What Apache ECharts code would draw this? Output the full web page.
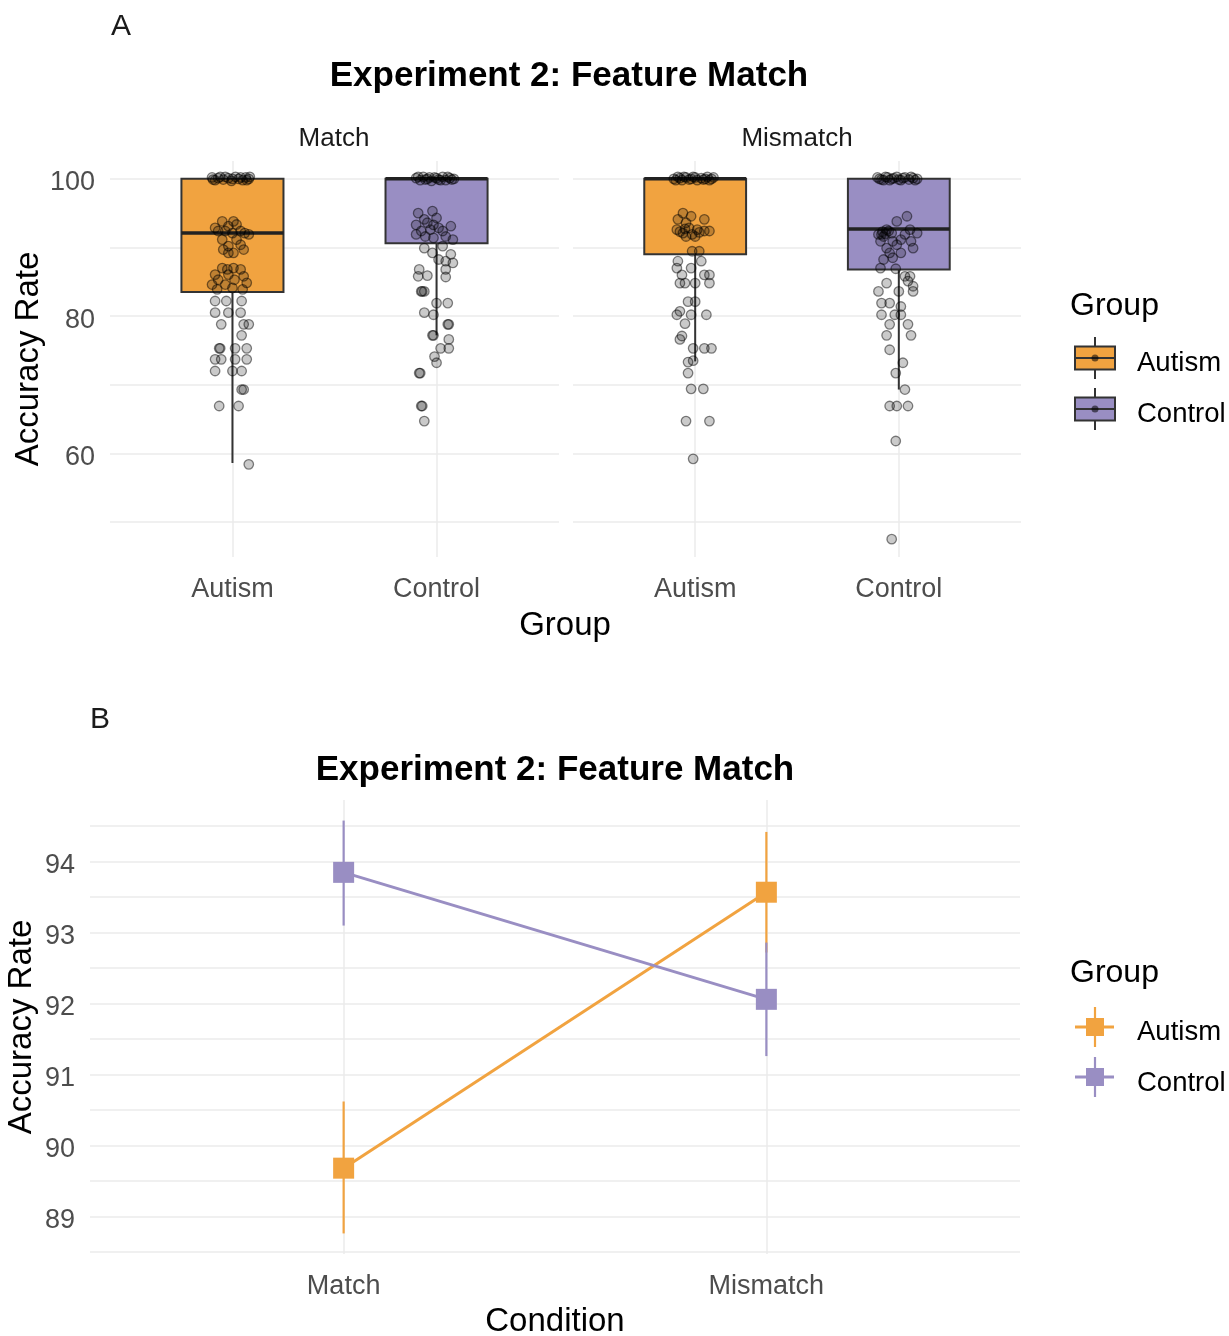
<!DOCTYPE html>
<html>
<head>
<meta charset="utf-8">
<script src="https://cdn.jsdelivr.net/npm/echarts@6/dist/echarts.min.js"></script>
<style>
html,body{margin:0;padding:0;background:#ffffff;}
#chart{width:1229px;height:1336px;}
</style>
</head>
<body>
<div id="chart"></div>
<script>
// ---------------- DATA ----------------
const groups = ['Autism', 'Control'];
const conditions = ['Match', 'Mismatch'];
const yTicksTop = [60, 80, 100];
const yGridTop = [50, 60, 70, 80, 90, 100];
const yTicksBottom = [89, 90, 91, 92, 93, 94];
const yGridBottom = [88.5, 89, 89.5, 90, 90.5, 91, 91.5, 92, 92.5, 93, 93.5, 94, 94.5];

// box statistics: [lower whisker, Q1, median, Q3, upper whisker]
const boxAutismMatch = [58.6, 83.5, 92.1, 100, 100];
const boxControlMatch = [77.2, 90.6, 100, 100, 100];
const boxAutismMismatch = [73.4, 89.0, 100, 100, 100];
const boxControlMismatch = [69.3, 86.8, 92.7, 100, 100];

// jittered points: [horizontal jitter (category units), accuracy]
const ptsAutismMatch = [
  [-0.10,100.2],[-0.085,99.8],[-0.06,100.3],[-0.045,99.9],[-0.02,100.1],[-0.005,99.7],[0.015,100.3],[0.03,100.0],[0.05,99.8],[0.065,100.2],[0.08,100.0],
  [-0.095,99.9],[-0.07,100.1],[-0.035,100.3],[0.0,100.0],[0.04,100.2],[0.07,99.8],[0.085,100.3],
  [-0.05,93.8],[0.005,93.8],[-0.085,92.85],[-0.02,93.1],[0.02,93.35],[-0.07,92.4],[-0.035,92.4],[0.06,92.1],[0.0,92.1],[0.04,92.4],[0.08,91.9],
  [-0.05,91.15],[0.02,91.15],[-0.02,90.2],[0.04,90.4],[-0.045,89.7],[0.005,89.2],[0.055,89.7],[-0.02,89.2],
  [-0.05,87.0],[0.005,87.0],[0.04,86.8],[-0.085,86.05],[-0.02,86.05],[0.055,85.8],[-0.07,85.3],[0.01,85.3],[-0.10,84.6],[-0.035,84.6],[0.07,84.85],[-0.075,83.9],[0.0,84.1],[0.05,83.9],[-0.025,86.8],
  [-0.085,82.2],[-0.03,82.2],[0.045,82.2],
  [-0.085,80.5],[-0.02,80.5],[0.04,80.5],
  [-0.055,78.8],[0.055,78.8],[0.08,78.8],
  [0.045,77.2],
  [-0.065,75.3],[-0.06,75.3],[0.013,75.3],[0.07,75.3],
  [-0.085,73.7],[-0.055,73.7],[0.013,73.7],[0.07,73.7],
  [-0.085,72.0],[0.0,72.0],[0.045,72.0],
  [0.045,69.3],[0.055,69.3],
  [-0.065,66.9],[0.03,66.9],
  [0.08,58.4]
];
const ptsControlMatch = [
  [-0.10,100.1],[-0.08,99.8],[-0.065,100.3],[-0.045,100.0],[-0.025,99.7],[-0.01,100.2],[0.01,99.9],[0.03,100.3],[0.045,99.8],[0.065,100.1],[0.085,100.0],
  [-0.09,100.3],[-0.055,99.9],[-0.035,100.2],[0.0,100.1],[0.02,99.8],[0.055,100.3],[0.075,99.9],
  [-0.09,95.0],[-0.02,95.3],[-0.06,94.1],[0.0,94.3],[-0.10,93.3],[-0.045,93.6],[-0.015,93.3],[0.07,93.1],[-0.075,92.4],[-0.03,92.6],[0.03,92.4],
  [-0.10,91.9],[-0.055,91.6],[0.045,91.6],[0.08,91.15],[-0.015,91.4],[0.01,92.85],
  [-0.06,89.9],[0.03,90.2],[-0.02,89.2],[0.07,89.0],[0.01,88.25],[0.045,88.0],[0.08,87.75],[-0.085,86.8],[0.045,86.8],[-0.09,85.8],[-0.045,85.9],[0.045,85.7],
  [-0.075,83.6],[-0.07,83.6],[-0.06,83.6],
  [0.0,81.9],[0.055,81.9],
  [-0.06,80.5],[-0.015,80.2],
  [0.055,78.8],[0.06,78.8],
  [-0.02,77.2],[-0.015,77.2],[0.06,76.6],
  [0.02,75.3],[0.06,75.3],
  [-0.01,74.1],[0.0,73.2],
  [-0.085,71.7],[-0.08,71.7],
  [-0.075,66.9],[-0.07,66.9],
  [-0.06,64.7]
];
const ptsAutismMismatch = [
  [-0.105,100.0],[-0.085,100.3],[-0.065,99.8],[-0.045,100.2],[-0.03,99.9],[-0.01,100.3],[0.01,99.8],[0.03,100.1],[0.05,100.0],[0.07,99.8],[0.09,100.2],
  [-0.095,99.8],[-0.075,100.1],[-0.055,100.3],[-0.02,100.0],[0.0,100.2],[0.04,99.9],[0.06,100.3],[0.08,100.0],
  [-0.06,95.0],[-0.02,94.55],[-0.085,94.1],[-0.045,93.6],[0.045,94.1],[-0.09,92.6],[-0.03,92.85],[0.01,92.6],[-0.06,92.1],[-0.015,91.9],[0.045,92.4],[0.07,92.4],[-0.045,91.6],[0.0,91.6],
  [-0.075,92.3],[-0.05,92.7],[0.02,92.2],
  [-0.015,89.45],[0.02,89.45],
  [-0.085,88.0],[0.03,88.0],
  [-0.09,87.0],[-0.02,87.0],
  [-0.065,86.0],[0.045,86.0],[0.07,86.0],
  [-0.075,84.8],[-0.05,84.8],[0.0,84.8],[0.07,84.8],
  [-0.035,82.1],[0.0,82.1],
  [-0.075,80.7],[-0.09,80.2],[-0.02,80.2],[0.055,80.2],
  [-0.05,78.9],
  [-0.065,77.1],[-0.075,76.6],
  [-0.01,75.3],[0.045,75.3],[0.08,75.3],
  [-0.035,73.3],[-0.01,73.5],
  [-0.035,71.7],
  [-0.02,69.4],[0.04,69.4],
  [-0.045,64.7],[0.07,64.7],
  [-0.01,59.2]
];
const ptsControlMismatch = [
  [-0.105,100.2],[-0.085,99.9],[-0.065,100.3],[-0.045,99.8],[-0.025,100.1],[-0.01,100.3],[0.01,99.8],[0.03,100.2],[0.05,99.9],[0.07,100.1],[0.09,100.0],
  [-0.095,100.0],[-0.075,99.8],[-0.055,100.2],[-0.035,100.0],[0.0,99.9],[0.02,100.1],[0.06,100.3],[0.08,99.8],
  [0.04,94.55],[-0.01,93.8],[-0.06,92.6],[0.055,92.6],[-0.10,91.9],[-0.075,91.6],[-0.035,92.1],[0.03,91.9],[0.09,92.1],
  [-0.09,90.9],[-0.03,90.9],[0.01,91.15],[0.06,90.9],[-0.06,89.9],[-0.01,90.4],[0.07,89.9],[-0.045,89.2],[0.01,89.2],
  [-0.075,88.25],[-0.03,88.5],[-0.09,87.0],[-0.015,86.9],[-0.08,92.3],[-0.05,92.4],[-0.085,91.9],[-0.065,92.0],
  [0.03,85.8],[0.055,85.8],[0.045,85.1],[-0.06,84.8],[0.07,84.35],
  [-0.10,83.6],[0.0,83.6],[0.07,83.6],
  [-0.085,81.9],[-0.045,81.9],[0.01,81.4],
  [-0.085,80.2],[-0.02,80.2],[0.01,80.2],
  [-0.045,78.8],[0.045,78.8],
  [-0.06,77.2],[0.06,77.2],
  [-0.045,75.1],
  [0.02,73.2],
  [-0.015,71.7],
  [0.03,69.3],
  [-0.045,66.9],[-0.01,66.9],[0.045,66.9],
  [-0.015,61.8],
  [-0.035,47.5]
];

// panel B: means and error bar limits, per condition (Match, Mismatch)
const meanAutism = [89.68, 93.57];
const meanControl = [93.85, 92.06];
const lowAutism = [88.76, 92.72];
const highAutism = [90.62, 94.42];
const lowControl = [93.10, 91.26];
const highControl = [94.58, 92.86];

// ---------------- STYLE ----------------
const FONT = '"Liberation Sans", Arial, Helvetica, sans-serif';
const fillColors = ['#f1a340', '#998ec3'];
const gridColor = '#ebebeb';
const tickColor = '#4d4d4d';
const boxWidth = 0.5;

const chart = echarts.init(document.getElementById('chart'), null, {renderer: 'canvas'});

function xAxisCfg(gridIndex, names) {
  return {
    gridIndex: gridIndex, type: 'value', min: 0.4, max: 2.6,
    axisLine: {show: false},
    axisTick: {show: false, customValues: [1, 2]},
    axisLabel: {customValues: [1, 2], formatter: function (v) { return names[Math.round(v) - 1]; },
      fontSize: 27, color: tickColor, fontFamily: FONT, margin: 19},
    splitLine: {show: true, lineStyle: {color: gridColor, width: 1.5}},
    minorSplitLine: {show: false}
  };
}
function yAxisCfg(gridIndex, min, max, gridVals, labelVals, showLabels, margin) {
  return {
    gridIndex: gridIndex, type: 'value', min: min, max: max,
    axisLine: {show: false},
    axisTick: {show: false, customValues: gridVals},
    axisLabel: {show: showLabels, customValues: labelVals, margin: margin,
      formatter: function (v) { return '{t|' + v + '}'; },
      rich: {t: {fontSize: 27, color: tickColor, fontFamily: FONT, padding: [8, 0, 0, 0]}}},
    splitLine: {show: true, lineStyle: {color: gridColor, width: 1.5}}
  };
}

function boxRender(params, api) {
  const x = api.value(0);
  const lo = api.value(1), q1 = api.value(2), med = api.value(3), q3 = api.value(4), hi = api.value(5);
  const tl = api.coord([x - boxWidth / 2, q3]);
  const br = api.coord([x + boxWidth / 2, q1]);
  const pLo = api.coord([x, lo]), pHi = api.coord([x, hi]);
  const pQ1 = api.coord([x, q1]), pQ3 = api.coord([x, q3]);
  const mL = api.coord([x - boxWidth / 2, med]), mR = api.coord([x + boxWidth / 2, med]);
  const stroke = '#333333';
  return {
    type: 'group',
    children: [
      {type: 'line', shape: {x1: pQ1[0], y1: pQ1[1], x2: pLo[0], y2: pLo[1]}, style: {stroke: stroke, lineWidth: 2}},
      {type: 'line', shape: {x1: pQ3[0], y1: pQ3[1], x2: pHi[0], y2: pHi[1]}, style: {stroke: stroke, lineWidth: 2}},
      {type: 'rect', shape: {x: tl[0], y: tl[1], width: br[0] - tl[0], height: br[1] - tl[1]},
        style: {fill: fillColors[params.dataIndex], stroke: stroke, lineWidth: 2}},
      {type: 'line', shape: {x1: mL[0], y1: mL[1], x2: mR[0], y2: mR[1]}, style: {stroke: '#222222', lineWidth: 3.5}}
    ]
  };
}

function boxSeries(idx, boxA, boxC) {
  return {
    type: 'custom', xAxisIndex: idx, yAxisIndex: idx, z: 2, silent: true,
    renderItem: boxRender,
    encode: {x: 0, y: [1, 2, 3, 4, 5]},
    data: [[1].concat(boxA), [2].concat(boxC)]
  };
}
function pointSeries(idx, center, pts) {
  return {
    type: 'scatter', xAxisIndex: idx, yAxisIndex: idx, z: 3, silent: true,
    symbol: 'circle', symbolSize: 9.5,
    itemStyle: {color: 'rgba(0,0,0,0.26)', borderColor: 'rgba(0,0,0,0.6)', borderWidth: 1.3},
    data: pts.map(function (p) { return [center + p[0], p[1]]; })
  };
}
function errRender(color) {
  return function (params, api) {
    const x = api.value(0);
    const a = api.coord([x, api.value(1)]);
    const b = api.coord([x, api.value(2)]);
    return {type: 'line', shape: {x1: a[0], y1: a[1], x2: b[0], y2: b[1]}, style: {stroke: color, lineWidth: 2.2}};
  };
}
function errSeries(low, high, color, z) {
  return {
    type: 'custom', xAxisIndex: 2, yAxisIndex: 2, z: z, silent: true,
    renderItem: errRender(color),
    encode: {x: 0, y: [1, 2]},
    data: [[1, low[0], high[0]], [2, low[1], high[1]]]
  };
}
function meanSeries(means, color, z) {
  return {
    type: 'line', xAxisIndex: 2, yAxisIndex: 2, z: z, silent: true,
    symbol: 'rect', symbolSize: 21, showSymbol: true,
    lineStyle: {color: color, width: 3},
    itemStyle: {color: color},
    data: [[1, means[0]], [2, means[1]]]
  };
}

function txt(x, y, text, size, opts) {
  opts = opts || {};
  return {
    type: 'text', x: x, y: y, rotation: opts.rotation || 0, silent: true,
    style: {text: text, fontSize: size, fontFamily: FONT, fontWeight: opts.bold ? 'bold' : 'normal',
      fill: opts.color || '#000000', align: opts.align || 'center', verticalAlign: 'middle'}
  };
}

const graphics = [
  txt(121, 27, 'A', 30, {color: '#1a1a1a'}),
  txt(569, 76, 'Experiment 2: Feature Match', 35, {bold: true}),
  txt(334, 139, conditions[0], 26, {color: '#1a1a1a'}),
  txt(797, 139, conditions[1], 26, {color: '#1a1a1a'}),
  txt(29, 359, 'Accuracy Rate', 33, {rotation: Math.PI / 2}),
  txt(565, 626, 'Group', 33),
  txt(1070, 306, 'Group', 32, {align: 'left'}),
  txt(1137, 363, groups[0], 27.5, {align: 'left'}),
  txt(1137, 414, groups[1], 27.5, {align: 'left'}),
  txt(100, 720, 'B', 30, {color: '#1a1a1a'}),
  txt(555, 770, 'Experiment 2: Feature Match', 35, {bold: true}),
  txt(22, 1027, 'Accuracy Rate', 33, {rotation: Math.PI / 2}),
  txt(555, 1322, 'Condition', 33),
  txt(1070, 973, 'Group', 32, {align: 'left'}),
  txt(1137, 1032, groups[0], 27.5, {align: 'left'}),
  txt(1137, 1083, groups[1], 27.5, {align: 'left'})
];
// legend keys panel A (box glyph)
[358, 409].forEach(function (cy, i) {
  graphics.push({type: 'line', silent: true, shape: {x1: 1095, y1: cy - 21, x2: 1095, y2: cy + 21}, style: {stroke: '#333333', lineWidth: 2}});
  graphics.push({type: 'rect', silent: true, shape: {x: 1075, y: cy - 11.5, width: 40, height: 23}, style: {fill: fillColors[i], stroke: '#333333', lineWidth: 2}});
  graphics.push({type: 'line', silent: true, shape: {x1: 1075, y1: cy, x2: 1115, y2: cy}, style: {stroke: '#333333', lineWidth: 2}});
  graphics.push({type: 'circle', silent: true, shape: {cx: 1095, cy: cy, r: 3.5}, style: {fill: 'rgba(0,0,0,0.55)'}});
});
// legend keys panel B (point + line + errorbar)
[1027, 1077].forEach(function (cy, i) {
  graphics.push({type: 'line', silent: true, shape: {x1: 1075, y1: cy, x2: 1114, y2: cy}, style: {stroke: fillColors[i], lineWidth: 3}});
  graphics.push({type: 'line', silent: true, shape: {x1: 1095, y1: cy - 20, x2: 1095, y2: cy + 20}, style: {stroke: fillColors[i], lineWidth: 2.2}});
  graphics.push({type: 'rect', silent: true, shape: {x: 1086, y: cy - 9, width: 18, height: 18}, style: {fill: fillColors[i]}});
});

const option = {
  animation: false,
  backgroundColor: '#ffffff',
  textStyle: {fontFamily: FONT},
  grid: [
    {left: 110, top: 161, width: 449, height: 396, outerBoundsMode: 'none', containLabel: false},
    {left: 573, top: 161, width: 448, height: 396, outerBoundsMode: 'none', containLabel: false},
    {left: 90, top: 800, width: 930, height: 454, outerBoundsMode: 'none', containLabel: false}
  ],
  xAxis: [
    xAxisCfg(0, groups),
    xAxisCfg(1, groups),
    xAxisCfg(2, conditions)
  ],
  yAxis: [
    yAxisCfg(0, 44.9, 102.6, yGridTop, yTicksTop, true, 15),
    yAxisCfg(1, 44.9, 102.6, yGridTop, yTicksTop, false, 15),
    yAxisCfg(2, 88.47, 94.87, yGridBottom, yTicksBottom, true, 15)
  ],
  series: [
    boxSeries(0, boxAutismMatch, boxControlMatch),
    boxSeries(1, boxAutismMismatch, boxControlMismatch),
    pointSeries(0, 1, ptsAutismMatch),
    pointSeries(0, 2, ptsControlMatch),
    pointSeries(1, 1, ptsAutismMismatch),
    pointSeries(1, 2, ptsControlMismatch),
    errSeries(lowAutism, highAutism, fillColors[0], 2),
    meanSeries(meanAutism, fillColors[0], 3),
    errSeries(lowControl, highControl, fillColors[1], 4),
    meanSeries(meanControl, fillColors[1], 5)
  ],
  graphic: graphics
};
chart.setOption(option);
</script>
</body>
</html>
